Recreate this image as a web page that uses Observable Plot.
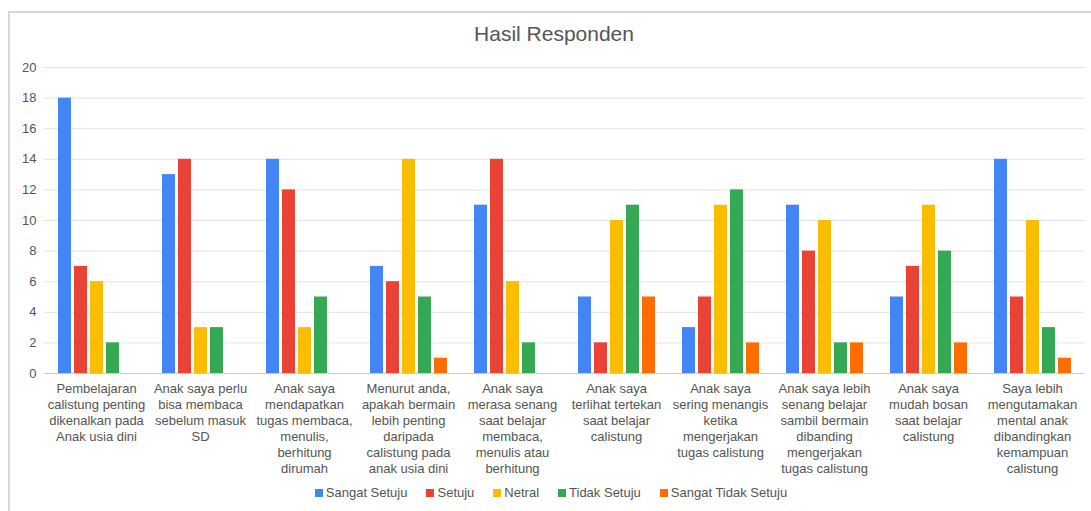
<!DOCTYPE html>
<html>
<head>
<meta charset="utf-8">
<script src="https://cdn.jsdelivr.net/npm/d3@7"></script>
<script src="https://cdn.jsdelivr.net/npm/@observablehq/plot@0.6"></script>
<style>
  html, body { margin: 0; padding: 0; background: #fff; }
  #wrap { position: relative; width: 1091px; height: 511px; overflow: hidden; font-family: "Liberation Sans", Arial, sans-serif; }
  #frame { position: absolute; left: 8px; top: 11px; width: 1200px; height: 600px; border-left: 2px solid #d6d6d6; border-top: 2px solid #d6d6d6; }
  #title { position: absolute; top: 22px; left: 0; width: 1108px; text-align: center; font-size: 21px; color: #555; }
  #chart { position: absolute; left: 0; top: 0; }
  #legend { position: absolute; top: 485px; left: 0; width: 1102px; display: flex; justify-content: center; gap: 19px; font-size: 13px; color: #555; }
  .item { display: flex; align-items: center; }
  .sw { width: 8px; height: 8px; margin-right: 3px; }
</style>
</head>
<body>
<div id="wrap">
  <div id="frame"></div>
  <div id="chart"></div>
  <div id="title">Hasil Responden</div>
  <div id="legend"></div>
</div>
<script>
const categories = [
  "Pembelajaran\ncalistung penting\ndikenalkan pada\nAnak usia dini",
  "Anak saya perlu\nbisa membaca\nsebelum masuk\nSD",
  "Anak saya\nmendapatkan\ntugas membaca,\nmenulis,\nberhitung\ndirumah",
  "Menurut anda,\napakah bermain\nlebih penting\ndaripada\ncalistung pada\nanak usia dini",
  "Anak saya\nmerasa senang\nsaat belajar\nmembaca,\nmenulis atau\nberhitung",
  "Anak saya\nterlihat tertekan\nsaat belajar\ncalistung",
  "Anak saya\nsering menangis\nketika\nmengerjakan\ntugas calistung",
  "Anak saya lebih\nsenang belajar\nsambil bermain\ndibanding\nmengerjakan\ntugas calistung",
  "Anak saya\nmudah bosan\nsaat belajar\ncalistung",
  "Saya lebih\nmengutamakan\nmental anak\ndibandingkan\nkemampuan\ncalistung"
];
const series = ["Sangat Setuju", "Setuju", "Netral", "Tidak Setuju", "Sangat Tidak Setuju"];
const colors = ["#4285F4", "#EA4335", "#FBBC04", "#34A853", "#FF6D01"];
const sangatSetuju      = [18, 13, 14, 7, 11, 5, 3, 11, 5, 14];
const setuju            = [7, 14, 12, 6, 14, 2, 5, 8, 7, 5];
const netral            = [6, 3, 3, 14, 6, 10, 11, 10, 11, 10];
const tidakSetuju       = [2, 3, 5, 5, 2, 11, 12, 2, 8, 3];
const sangatTidakSetuju = [0, 0, 0, 1, 0, 5, 2, 2, 2, 1];
const yTicks = [0, 2, 4, 6, 8, 10, 12, 14, 16, 18, 20];

const valuesBySeries = [sangatSetuju, setuju, netral, tidakSetuju, sangatTidakSetuju];
const rows = [];
categories.forEach((c, i) => {
  series.forEach((s, j) => {
    rows.push({cat: c, series: s, value: valuesBySeries[j][i]});
  });
});

const chart = Plot.plot({
  width: 1091,
  height: 480,
  marginLeft: 44,
  marginRight: 7,
  marginTop: 67,
  marginBottom: 107,
  style: {fontFamily: "'Liberation Sans', Arial, sans-serif", fontSize: "13px", color: "#555", background: "transparent"},
  fx: {domain: categories, padding: 0, label: null},
  x: {domain: series, paddingInner: 0.19, paddingOuter: 0.84, axis: null},
  y: {domain: [0, 20], label: null},
  color: {domain: series, range: colors},
  marks: [
    Plot.gridY(yTicks, {stroke: "#e3e3e3", strokeOpacity: 1}),
    Plot.axisY(yTicks, {tickSize: 0, tickPadding: 8, label: null, fill: "#555"}),
    Plot.axisFx({anchor: "bottom", tickSize: 0, tickPadding: 8, label: null, lineHeight: 1.23, fill: "#555", tickFormat: d => d}),
    Plot.barY(rows, {fx: "cat", x: "series", y: "value", fill: "series"}),
    Plot.ruleY([0], {stroke: "#cccccc"})
  ]
});
document.getElementById("chart").appendChild(chart);

const legend = document.getElementById("legend");
series.forEach((s, i) => {
  const it = document.createElement("div");
  it.className = "item";
  const sw = document.createElement("div");
  sw.className = "sw";
  sw.style.background = colors[i];
  const t = document.createElement("span");
  t.textContent = s;
  it.appendChild(sw); it.appendChild(t);
  legend.appendChild(it);
});
</script>
</body>
</html>
